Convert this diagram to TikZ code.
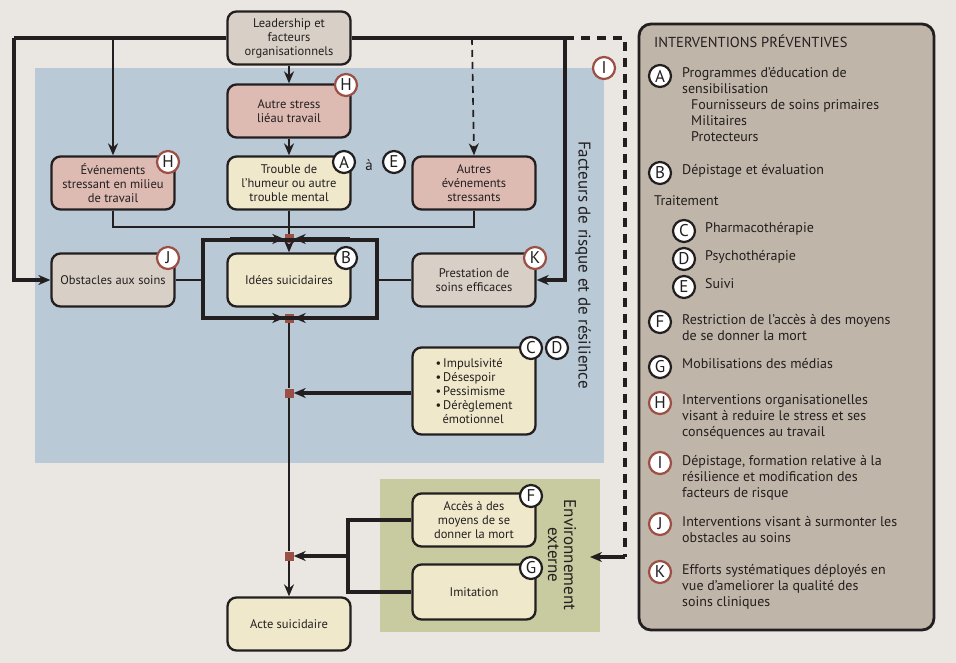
\documentclass[tikz,border=0pt]{standalone}
\usepackage{fontspec}
\setmainfont{PT Sans}
\usetikzlibrary{arrows.meta}
\definecolor{bg}{HTML}{EAE6E1}
\definecolor{blu}{HTML}{B9C9D6}
\definecolor{grn}{HTML}{C8CA9F}
\definecolor{pnl}{HTML}{C0B5A9}
\definecolor{pink}{HTML}{DDBAB2}
\definecolor{gry}{HTML}{D8CFC6}
\definecolor{crm}{HTML}{F0E8CA}
\definecolor{ink}{HTML}{231F20}
\definecolor{brn}{HTML}{9B4F45}
\tikzset{
 box/.style={draw=ink,line width=2.3pt,rounded corners=9pt,minimum width=123pt,minimum height=53pt,align=center,font=\fontsize{12.5}{14}\selectfont,text=ink,inner sep=2pt},
 bk/.style={circle,draw=ink,line width=2.2pt,fill=white,minimum size=22pt,inner sep=0pt,font=\fontsize{17}{17}\selectfont,text=ink},
 bb/.style={bk,draw=brn},
 thn/.style={draw=ink,line width=1.7pt},
 thk/.style={draw=ink,line width=3.3pt},
 arr/.style={-{Stealth[length=12pt,width=10pt]}},
 sq/.style={fill=brn,minimum size=9pt,inner sep=0pt},
 ptx/.style={anchor=north west,font=\fontsize{14}{16}\selectfont,text=ink,align=left,inner sep=0pt},
}
\begin{document}
\begin{tikzpicture}[x=1pt,y=-1pt]
\fill[bg] (0,0) rectangle (956,663);
\useasboundingbox (0,0) rectangle (956,663);
\fill[blu] (35,68) rectangle (604,463);
\fill[grn] (380,479) rectangle (600,632);
\draw[fill=pnl,draw=ink,line width=2.8pt,rounded corners=12pt] (639,24) rectangle (934,630);
% nodes
\node[box,fill=gry] (lead) at (289,38) {Leadership et\\facteurs\\organisationnels};
\node[box,fill=pink] (stress) at (289,111) {Autre stress\\liéau travail};
\node[box,fill=crm] (troub) at (289,183) {Trouble de\\l'humeur ou autre\\trouble mental};
\node[box,fill=pink] (even) at (113,183) {Événements\\stressant en milieu\\de travail};
\node[box,fill=pink] (autres) at (474,183) {Autres\\événements\\stressants};
\node[box,fill=gry] (obst) at (113,280) {Obstacles aux soins};
\node[box,fill=crm] (idees) at (289,280) {Idées suicidaires};
\node[box,fill=gry] (prest) at (474,280) {Prestation de\\soins efficaces};
\node[box,fill=crm,minimum height=87pt,align=left] (imp) at (474,391) {•\,Impulsivité\\•\,Désespoir\\•\,Pessimisme\\•\,Dérèglement\\\hspace*{7pt}émotionnel};
\node[box,fill=crm] (acces) at (474,520) {Accès à des\\moyens de se\\donner la mort};
\node[box,fill=crm,minimum height=55pt] (imit) at (474,592) {Imitation};
\node[box,fill=crm] (acte) at (289,624) {Acte suicidaire};
% squares
\node[sq] (s1) at (289,239) {};
\node[sq] (s2) at (289,318) {};
\node[sq] (s3) at (289,393) {};
\node[sq] (s4) at (289,556) {};
% coordinates
\coordinate (lc) at (14,38);
\coordinate (bx) at (113,38);
\coordinate (dx) at (472,38);
\coordinate (rx) at (565,38);
\coordinate (dr) at (625,38);
\coordinate (dd) at (625,557);
\coordinate (de) at (590,557);
\coordinate (br) at (348,556);
% top connectors
\draw[thk] (lead.west) -- (lc);
\draw[thk,arr] (lc) |- (obst.west);
\draw[thk] (lead.east) -- (rx);
\draw[thk,arr] (rx) |- (prest.east);
\draw[thn,arr] (bx) -- (even.north);
\draw[thn,arr,dash pattern=on 7pt off 5pt] (dx) -- (autres.north);
\draw[line width=3.3pt,draw=ink,dash pattern=on 9pt off 7pt] (rx) -- (dr) -- (dd);
\draw[thk,arr] (dd) -- (de);
\draw[thn,arr] (lead) -- (stress);
\draw[thn,arr] (stress) -- (troub);
\draw[thn] (even.south) |- (289,227) -| (autres.south);
\draw[thn] (troub) -- (s1);
\draw[thn,arr] (s1) -- (idees);
% loop
\draw[thk] (203,240) rectangle (377,318);
\draw[thk,arr] (230,239) -- (s1);
\draw[thk,arr] (350,239) -- (s1);
\draw[thk,arr] (230,318) -- (s2);
\draw[thk,arr] (350,318) -- (s2);
\draw[thn] (obst.east) -- (203,280);
\draw[thn] (prest.west) -- (377,280);
\draw[thn] (s2) -- (s3) -- (s4);
\draw[thn,arr] (s4) -- (acte);
\draw[thk,arr] (imp.west |- s3) -- (s3);
\draw[thk] (acces.west) -| (br) |- (imit.west);
\draw[thk,arr] (br) -- (s4);
% badges
\node[bb] (bH1) at (346,85) {H};
\node[bb] (bH2) at (168,162) {H};
\node[bk] (bA) at (344,162) {A};
\node[font=\fontsize{15}{15}\selectfont,text=ink] (aa) at (369,165) {à};
\node[bk] (bE) at (394,162) {E};
\node[bk] (bB) at (346,258) {B};
\node[bb] (bJ) at (168,258) {J};
\node[bb] (bK) at (535,258) {K};
\node[bk] (bC) at (531,348) {C};
\node[bk] (bD) at (557,348) {D};
\node[bk] (bF) at (531,496) {F};
\node[bk] (bG) at (531,568) {G};
\node[bb] (bI) at (604,68) {I};
% rotated labels
\node[rotate=-90,font=\fontsize{17}{18}\selectfont,text=ink] (lab1) at (583,265) {Facteurs de risque et de résilience};
\node[rotate=-90,font=\fontsize{17}{16}\selectfont,text=ink,align=center] (lab2) at (562,555) {Environnement\\externe};
% panel
\node[ptx,font=\fontsize{14.5}{16}\selectfont] (ttl) at (654,35) {INTERVENTIONS PRÉVENTIVES};
\node[bk] (pA) at (660,76) {A};
\node[ptx] (tA) at (682,67) {Programmes d'éducation de\\sensibilisation\\\hspace*{9pt}Fournisseurs de soins primaires\\\hspace*{9pt}Militaires\\\hspace*{9pt}Protecteurs};
\node[bk] (pB) at (660,173) {B};
\node[ptx] (tB) at (682,164) {Dépistage et évaluation};
\node[ptx] (tT) at (654,195) {Traitement};
\node[bk] (pC) at (684,231) {C};
\node[ptx] (tC) at (705,222) {Pharmacothérapie};
\node[bk] (pD) at (684,259) {D};
\node[ptx] (tD) at (705,250) {Psychothérapie};
\node[bk] (pE) at (684,287) {E};
\node[ptx] (tE) at (705,278) {Suivi};
\node[bk] (pF) at (660,322) {F};
\node[ptx] (tF) at (682,314) {Restriction de l'accès à des moyens\\de se donner la mort};
\node[bk] (pG) at (660,367) {G};
\node[ptx] (tG) at (682,358) {Mobilisations des médias};
\node[bb] (pH) at (660,403) {H};
\node[ptx] (tH) at (682,394) {Interventions organisationelles\\visant à reduire le stress et ses\\conséquences au travail};
\node[bb] (pI) at (660,463) {I};
\node[ptx] (tI) at (682,455) {Dépistage, formation relative à la\\résilience et modification des\\facteurs de risque};
\node[bb] (pJ) at (660,524) {J};
\node[ptx] (tJ) at (682,516) {Interventions visant à surmonter les\\obstacles au soins};
\node[bb] (pK) at (660,572) {K};
\node[ptx] (tK) at (682,564) {Efforts systématiques déployés en\\vue d'ameliorer la qualité des\\soins cliniques};
\end{tikzpicture}
\end{document}
